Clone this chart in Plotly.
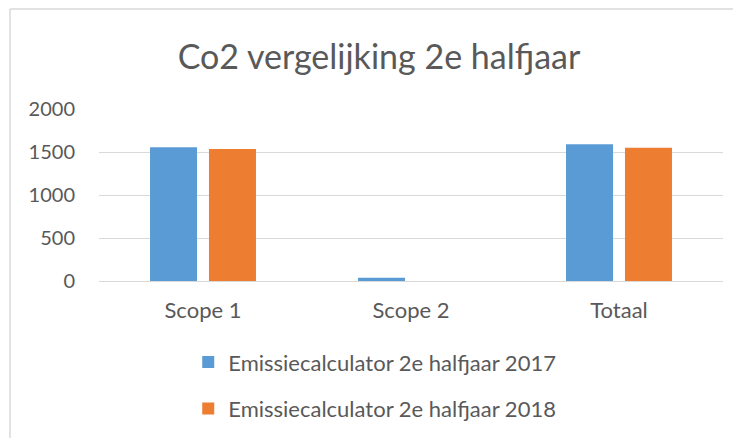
import plotly.graph_objects as go

categories = ["Scope 1", "Scope 2", "Totaal"]
series_2017 = [1555, 38, 1590]
series_2018 = [1535, 0, 1550]
name_2017 = "Emissiecalculator 2e halfjaar 2017"
name_2018 = "Emissiecalculator 2e halfjaar 2018"
y_ticks = [0, 500, 1000, 1500, 2000]

FONT = "Lato"
GRAY = "#595959"
GRID = "#D9D9D9"

# page body has an 8px margin, so the figure is 8px smaller and offset
W, H = 733, 430
L, R, T, B = 91, 18, 101, 157
PW, PH = W - L - R, H - T - B

fig = go.Figure()
fig.add_trace(go.Bar(x=categories, y=series_2017, name=name_2017,
                     marker=dict(color="#5B9BD5", line=dict(width=0)),
                     legendgroup="a"))
fig.add_trace(go.Bar(x=categories, y=series_2018, name=name_2018,
                     marker=dict(color="#ED7D31", line=dict(width=0)),
                     legendgroup="b"))

fig.update_layout(
    width=W, height=H,
    margin=dict(l=L, r=R, t=T, b=B, autoexpand=False),
    paper_bgcolor="white", plot_bgcolor="white",
    font=dict(family=FONT, color=GRAY, size=22),
    title=dict(text="Co2 vergelijking 2e halfjaar", xref="container",
               x=371 / W, xanchor="center",
               y=1 - 49 / H, yanchor="middle",
               font=dict(family=FONT, size=34, color=GRAY)),
    barmode="group", bargap=0.433, bargroupgap=0.203,
    showlegend=True,
    legend=dict(orientation="v", x=0.143, xanchor="left",
                y=-0.35, yanchor="top", tracegroupgap=15,
                font=dict(family=FONT, size=22, color=GRAY),
                bgcolor="rgba(0,0,0,0)"),
    xaxis=dict(showgrid=False, showline=False, ticks="",
               ticklabelstandoff=14,
               tickfont=dict(size=22, color=GRAY), fixedrange=True),
    yaxis=dict(range=[0, 2000], tickvals=y_ticks, showgrid=True,
               gridcolor=GRID, gridwidth=1.3, zeroline=True,
               zerolinecolor=GRID, zerolinewidth=1.3, showline=False,
               ticks="", ticklabelstandoff=23,
               tickfont=dict(size=20, color=GRAY), fixedrange=True),
    shapes=[
        dict(type="line", xref="paper", yref="paper",
             x0=-(L - 2) / PW, x1=1 + R / PW, y0=1 + (T - 1) / PH, y1=1 + (T - 1) / PH,
             line=dict(color=GRID, width=1.5)),
        dict(type="line", xref="paper", yref="paper",
             x0=-(L - 2) / PW, x1=-(L - 2) / PW, y0=1 + (T - 1) / PH, y1=-B / PH,
             line=dict(color=GRID, width=1.5)),
    ],
)

fig.write_html("out.html")
